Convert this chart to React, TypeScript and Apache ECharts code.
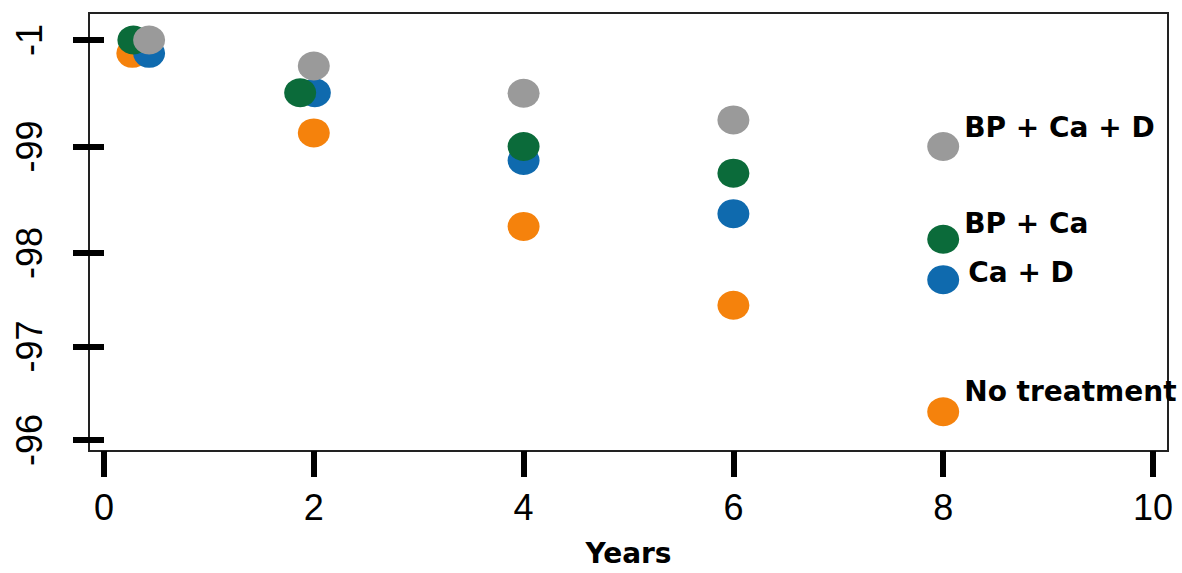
import React, { useEffect, useRef } from "react";
import * as echarts from "echarts";

// Series names and colours
const seriesNames = ["No treatment", "Ca + D", "BP + Ca", "BP + Ca + D"];
const seriesColors = ["#f5820c", "#0f6aae", "#0b6b3a", "#9a9a9a"];

// x positions (years) per series
const noTreatmentX = [0.27, 2, 4, 6, 8];
const caDX = [0.43, 2.01, 4, 6, 8];
const bpCaX = [0.28, 1.87, 4, 6, 8];
const bpCaDX = [0.43, 2, 4, 6, 8];

// y values per series
const noTreatmentY = [99.875, 99.128, 98.25, 97.51, 96.51];
const caDY = [99.875, 99.505, 98.87, 98.37, 97.75];
const bpCaY = [100.0, 99.505, 99.0, 98.75, 98.13];
const bpCaDY = [100.0, 99.756, 99.5, 99.25, 99.0];

// Axis ticks
const xTicks = [0, 2, 4, 6, 8, 10];
const yTickValues = [100, 99, 98, 97.123, 96.245];
const yTickLabels = ["-1", "-99", "-98", "-97", "-96"];

const xs = [noTreatmentX, caDX, bpCaX, bpCaDX];
const ys = [noTreatmentY, caDY, bpCaY, bpCaDY];
const labelOffsets = [
  [0, -20],
  [4, -7],
  [0, -16],
  [0, -19],
];

export default function App() {
  const ref = useRef<HTMLDivElement>(null);
  useEffect(() => {
    if (!ref.current) return;
    const chart = echarts.init(ref.current, null, { renderer: "svg" });
    const series = seriesNames.map((name, si) => ({
      name,
      type: "scatter",
      symbol: "circle",
      symbolSize: [32, 29],
      itemStyle: { color: seriesColors[si], opacity: 1 },
      z: 2 + si,
      data: xs[si].map((x, i) => {
        const item: any = { value: [x, ys[si][i]] };
        if (i === xs[si].length - 1) {
          item.label = {
            show: true,
            position: "right",
            distance: 5,
            offset: labelOffsets[si],
            formatter: name,
            fontFamily: "DejaVu Sans",
            fontWeight: "bold",
            fontSize: 28,
            color: "#000",
          };
        }
        return item;
      }),
    }));
    chart.setOption({
      animation: false,
      backgroundColor: "#ffffff",
      grid: {
        left: 89,
        top: 13,
        right: 14,
        bottom: 122,
        outerBoundsMode: "none",
        containLabel: false,
        show: true,
        borderColor: "#222",
        borderWidth: 2,
        backgroundColor: "transparent",
      },
      xAxis: {
        type: "value",
        min: -0.143,
        max: 10.143,
        name: "Years",
        nameLocation: "middle",
        nameGap: 88,
        nameTextStyle: {
          fontFamily: "DejaVu Sans",
          fontWeight: "bold",
          fontSize: 28,
          color: "#000",
        },
        axisLine: { show: false },
        splitLine: { show: false },
        axisTick: {
          show: true,
          length: 26,
          customValues: xTicks,
          lineStyle: { color: "#000", width: 6 },
        },
        axisLabel: {
          customValues: xTicks,
          margin: 38,
          fontFamily: "Liberation Sans",
          fontSize: 36,
          color: "#000",
        },
      },
      yAxis: {
        type: "value",
        min: 96.141,
        max: 100.254,
        axisLine: { show: false },
        splitLine: { show: false },
        axisTick: {
          show: true,
          length: 31,
          customValues: yTickValues,
          lineStyle: { color: "#000", width: 6 },
        },
        axisLabel: {
          customValues: yTickValues,
          rotate: 90,
          margin: 42,
          fontFamily: "Liberation Sans",
          fontSize: 36,
          color: "#000",
          formatter: (v: number) => {
            let best = 0;
            let bd = Infinity;
            yTickValues.forEach((t, i) => {
              const d = Math.abs(t - v);
              if (d < bd) {
                bd = d;
                best = i;
              }
            });
            return yTickLabels[best];
          },
        },
      },
      series,
    });
    return () => chart.dispose();
  }, []);
  return (
    <div
      ref={ref}
      style={{ position: "absolute", left: 0, top: 0, width: 1182, height: 573 }}
    />
  );
}
